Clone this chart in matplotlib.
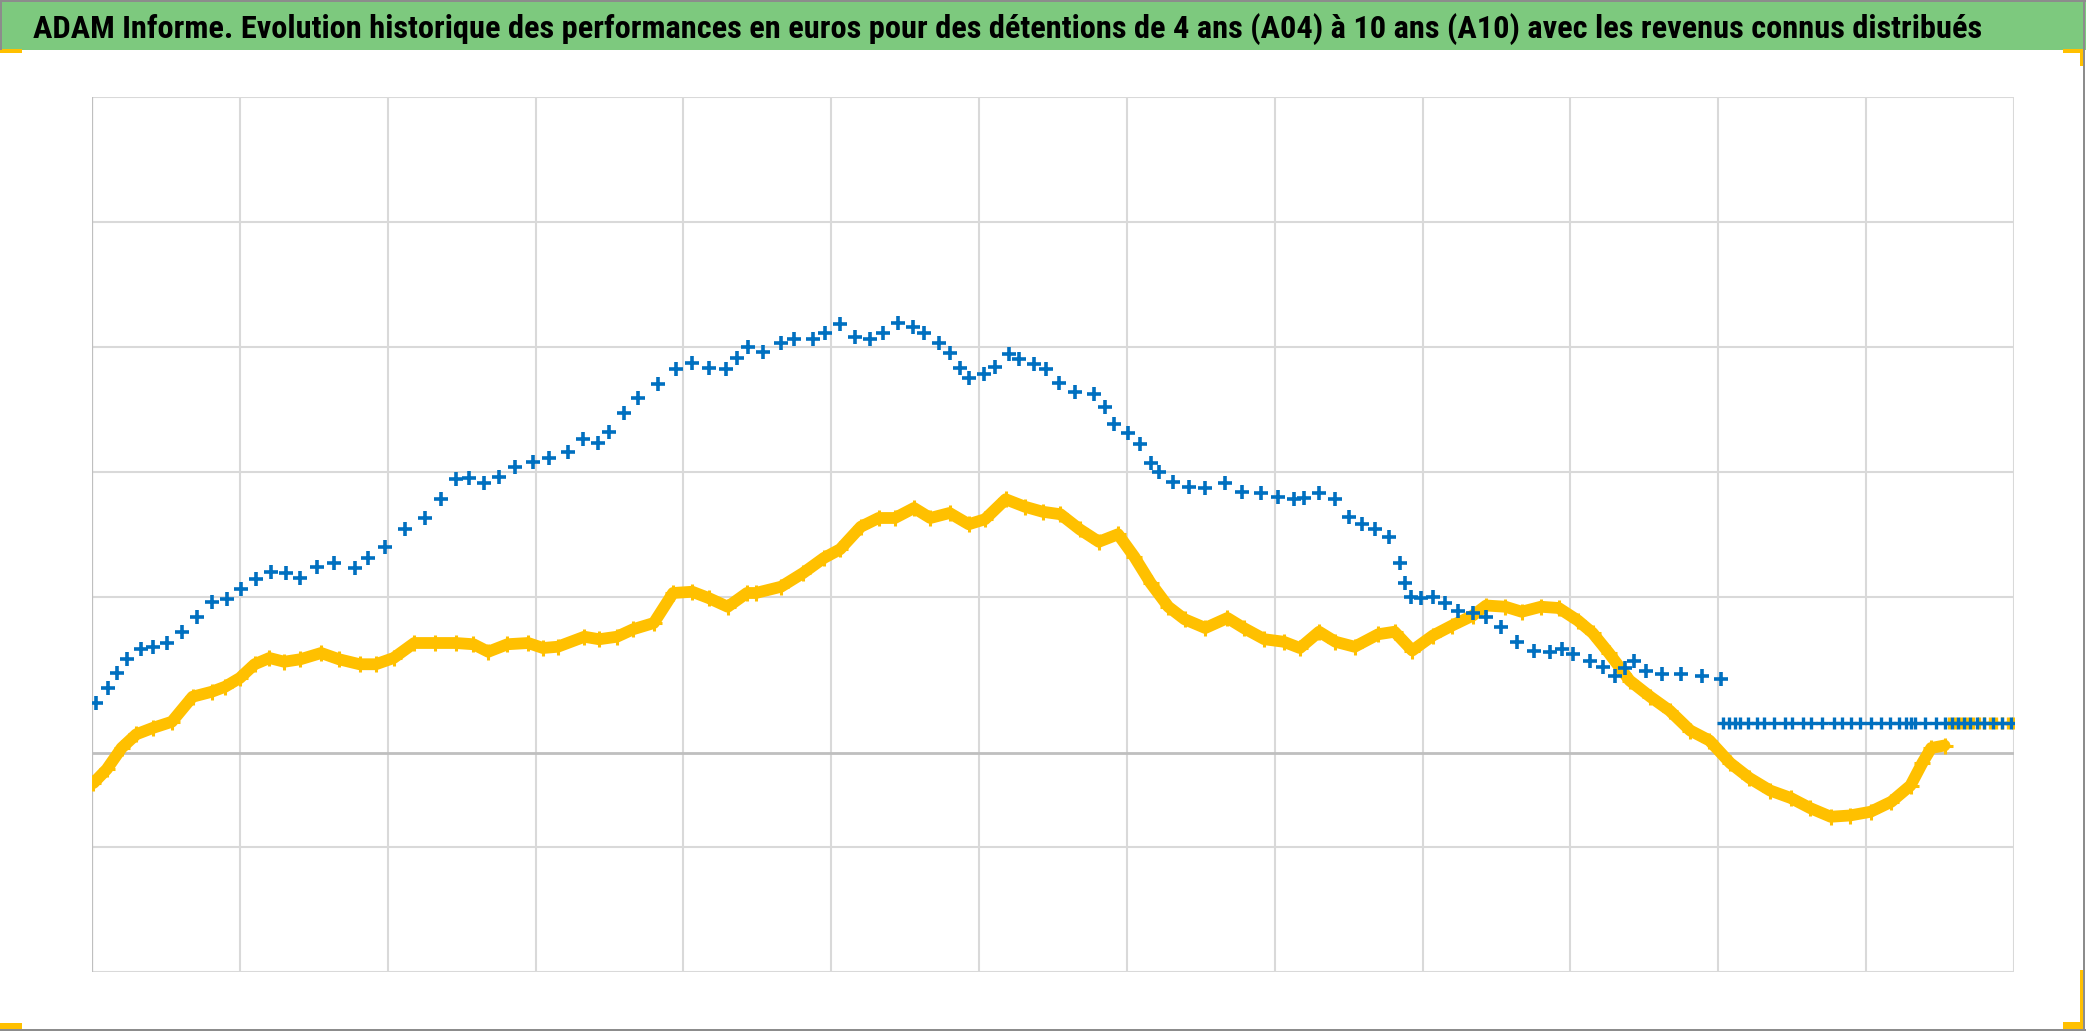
import matplotlib
matplotlib.use("Agg")
import matplotlib.pyplot as plt
from matplotlib import font_manager
from matplotlib.patches import Rectangle

# x in grid columns (13 columns), y in gridline steps, 0 = horizontal axis
title = ("ADAM Informe. Evolution historique des performances en euros pour des "
         "détentions de 4 ans (A04) à 10 ans (A10) avec les revenus connus distribués")

a04_x = [0.03, 0.11, 0.17, 0.24, 0.33, 0.41, 0.51, 0.61, 0.71, 0.81, 0.91, 1.01,
         1.11, 1.21, 1.31, 1.41, 1.52, 1.64, 1.78, 1.87, 1.98, 2.12, 2.25, 2.36,
         2.46, 2.55, 2.65, 2.75, 2.86, 2.98, 3.09, 3.22, 3.32, 3.42, 3.50, 3.60,
         3.69, 3.83, 3.95, 4.06, 4.17, 4.29, 4.36, 4.44, 4.54, 4.66, 4.75, 4.88,
         4.96, 5.06, 5.16, 5.26, 5.35, 5.45, 5.55, 5.63, 5.73, 5.80, 5.87, 5.93,
         6.03, 6.11, 6.20, 6.27, 6.37, 6.45, 6.54, 6.65, 6.78, 6.85, 6.91, 7.01,
         7.09, 7.16, 7.22, 7.31, 7.42, 7.53, 7.66, 7.78, 7.91, 8.02, 8.13, 8.20,
         8.30, 8.41, 8.50, 8.59, 8.68, 8.77, 8.85, 8.88, 8.92, 8.99, 9.07, 9.15,
         9.24, 9.34, 9.43, 9.53, 9.64, 9.75, 9.86, 9.94, 10.02, 10.13, 10.22,
         10.30, 10.37, 10.43, 10.51, 10.62, 10.75, 10.89, 11.02]
a04_y = [0.40, 0.52, 0.64, 0.75, 0.83, 0.85, 0.88, 0.97, 1.09, 1.21, 1.23, 1.31,
         1.39, 1.45, 1.44, 1.40, 1.49, 1.52, 1.48, 1.56, 1.65, 1.79, 1.88, 2.03,
         2.19, 2.20, 2.16, 2.21, 2.29, 2.33, 2.36, 2.41, 2.51, 2.48, 2.57, 2.72,
         2.84, 2.95, 3.07, 3.12, 3.08, 3.07, 3.16, 3.25, 3.21, 3.28, 3.31, 3.31,
         3.36, 3.43, 3.33, 3.31, 3.36, 3.44, 3.41, 3.36, 3.28, 3.20, 3.08, 3.00,
         3.03, 3.09, 3.19, 3.15, 3.11, 3.07, 2.96, 2.89, 2.87, 2.77, 2.63, 2.56,
         2.47, 2.32, 2.25, 2.17, 2.13, 2.12, 2.16, 2.09, 2.08, 2.05, 2.03, 2.04,
         2.08, 2.03, 1.89, 1.83, 1.79, 1.73, 1.52, 1.36, 1.25, 1.24, 1.25, 1.20,
         1.14, 1.12, 1.09, 1.01, 0.89, 0.82, 0.81, 0.83, 0.79, 0.74, 0.69,
         0.62, 0.68, 0.74, 0.66, 0.63, 0.63, 0.62, 0.59]

a04_flat_x = [11.03, 11.07, 11.11, 11.15, 11.20, 11.26, 11.31, 11.38, 11.45,
              11.50, 11.57, 11.63, 11.70, 11.78, 11.84, 11.90, 11.96, 12.03,
              12.10, 12.16, 12.22, 12.27, 12.30, 12.33, 12.40, 12.47, 12.53,
              12.58, 12.62, 12.66, 12.70, 12.75, 12.80, 12.86, 12.92, 12.98]
a04_flat_y = [0.243] * len(a04_flat_x)

a10_x = [0.01, 0.10, 0.20, 0.30, 0.41, 0.54, 0.68, 0.81, 0.90, 1.00, 1.10, 1.20,
         1.30, 1.41, 1.55, 1.67, 1.81, 1.92, 2.04, 2.18, 2.32, 2.46, 2.58, 2.68,
         2.81, 2.95, 3.05, 3.15, 3.33, 3.43, 3.55, 3.66, 3.80, 3.93, 4.06, 4.17,
         4.30, 4.43, 4.49, 4.66, 4.81, 4.95, 5.06, 5.20, 5.32, 5.43, 5.56, 5.67,
         5.80, 5.93, 6.04, 6.18, 6.31, 6.43, 6.55, 6.68, 6.81, 6.94, 7.05, 7.16,
         7.28, 7.39, 7.53, 7.68, 7.79, 7.93, 8.06, 8.17, 8.30, 8.41, 8.54, 8.70,
         8.81, 8.93, 9.07, 9.20, 9.34, 9.43, 9.56, 9.67, 9.80, 9.92, 10.05, 10.15,
         10.26, 10.40, 10.54, 10.67, 10.81, 10.94, 11.08, 11.21, 11.35, 11.49,
         11.62, 11.76, 11.89, 12.03, 12.17, 12.30, 12.38, 12.44, 12.53]
a10_y = [-0.24, -0.13, 0.04, 0.15, 0.20, 0.25, 0.45, 0.49, 0.53, 0.60, 0.71, 0.76,
         0.73, 0.75, 0.80, 0.75, 0.71, 0.71, 0.76, 0.88, 0.88, 0.88, 0.87, 0.81,
         0.87, 0.88, 0.84, 0.85, 0.93, 0.91, 0.93, 0.99, 1.04, 1.28, 1.29, 1.24,
         1.17, 1.28, 1.28, 1.33, 1.44, 1.56, 1.63, 1.81, 1.88, 1.88, 1.96, 1.88,
         1.92, 1.83, 1.87, 2.03, 1.97, 1.93, 1.91, 1.79, 1.69, 1.75, 1.57, 1.36,
         1.17, 1.07, 1.00, 1.08, 1.00, 0.91, 0.89, 0.84, 0.97, 0.89, 0.85, 0.95,
         0.97, 0.82, 0.94, 1.02, 1.10, 1.18, 1.17, 1.13, 1.17, 1.16, 1.06, 0.96,
         0.80, 0.58, 0.45, 0.34, 0.18, 0.10, -0.08, -0.20, -0.30, -0.36,
         -0.44, -0.51, -0.50, -0.47, -0.39, -0.26, -0.08, 0.04, 0.06]

a10_flat_x = [12.56, 12.60, 12.64, 12.68, 12.72, 12.76, 12.80, 12.84, 12.88,
              12.92, 12.96, 12.99]
a10_flat_y = [0.243] * len(a10_flat_x)

grid_y = [-1.752, -0.752, 1.248, 2.248, 3.248, 4.248, 5.248]

# narrowest bold face we can find (Calibri is not installed)
installed = {f.name for f in font_manager.fontManager.ttflist}
title_font = "DejaVu Sans"
for cand in ["Liberation Sans Narrow", "DejaVu Sans Condensed", "Roboto Condensed",
             "Open Sans Condensed", "Lato", "Roboto"]:
    if cand in installed:
        title_font = cand
        break

W, H = 2086, 1031
fig = plt.figure(figsize=(W / 100, H / 100), dpi=100)
fig.patch.set_facecolor("white")

# green title band
fig.patches.append(Rectangle((0, 1 - 50 / H), 1, 50 / H, transform=fig.transFigure,
                             facecolor="#7DC97E", edgecolor="none", zorder=0))

ax = fig.add_axes([92 / W, (H - 972) / H, (2014 - 92) / W, (972 - 97) / H])
ax.set_xlim(0, 13)
ax.set_ylim(grid_y[0], grid_y[-1])
for s in ax.spines.values():
    s.set_visible(False)
ax.set_xticks([])
ax.set_yticks([])

for gx in range(14):
    ax.axvline(gx, color="#D9D9D9", lw=1.5, zorder=1)
for gy in grid_y:
    ax.axhline(gy, color="#D9D9D9", lw=1.5, zorder=1)
ax.axvline(0, color="#BFBFBF", lw=1.6, zorder=1)
ax.axhline(0, color="#BFBFBF", lw=2.0, zorder=1)

yellow = "#FFC000"
blue = "#0070C0"
ax.plot(a10_x, a10_y, color=yellow, lw=8.5, solid_capstyle="round", zorder=2)
ax.plot(a10_x, a10_y, ls="none", marker="+", ms=11, mew=2.2, color=yellow, zorder=2)
ax.plot(a10_flat_x, a10_flat_y, ls="none", marker="+", ms=9, mew=2.4, color=yellow, zorder=2)
ax.plot(a04_x, a04_y, ls="none", marker="+", ms=9.5, mew=2.6, color=blue, zorder=3)
ax.plot(a04_flat_x, a04_flat_y, ls="none", marker="+", ms=8.5, mew=2.4, color=blue, zorder=3)
ax.plot(a04_flat_x, a04_flat_y, color=blue, lw=1.2, zorder=3)

# title, fitted to the band width
txt = fig.text(33 / W, 1 - 38 / H, title, ha="left", va="baseline", fontsize=26,
               fontweight="bold", color="black", family=[title_font, "DejaVu Sans"])
r = fig.canvas.get_renderer()
w = txt.get_window_extent(r).width
txt.set_fontsize(26 * 1947 / w)

# excel-like selection handles and frame
def px_rect(x0, y0, x1, y1, color):
    fig.patches.append(Rectangle((x0 / W, 1 - y1 / H), (x1 - x0) / W, (y1 - y0) / H,
                                 transform=fig.transFigure, facecolor=color,
                                 edgecolor="none", zorder=5))

px_rect(0, 49, 22, 53, yellow)
px_rect(2063, 49, 2085, 53, yellow)
px_rect(2080, 49, 2085, 66, yellow)
px_rect(2080, 970, 2085, 1029, yellow)
px_rect(2063, 1022, 2085, 1029, yellow)
px_rect(0, 1023, 22, 1030, yellow)
px_rect(0, 0, W, 2, "#8C8C8C")
px_rect(0, 0, 2, 50, "#8C8C8C")
px_rect(2083, 0, 2085, H, "#8C8C8C")
px_rect(0, 1029, W, 1031, "#8C8C8C")

fig.savefig("out.png", dpi=100)
